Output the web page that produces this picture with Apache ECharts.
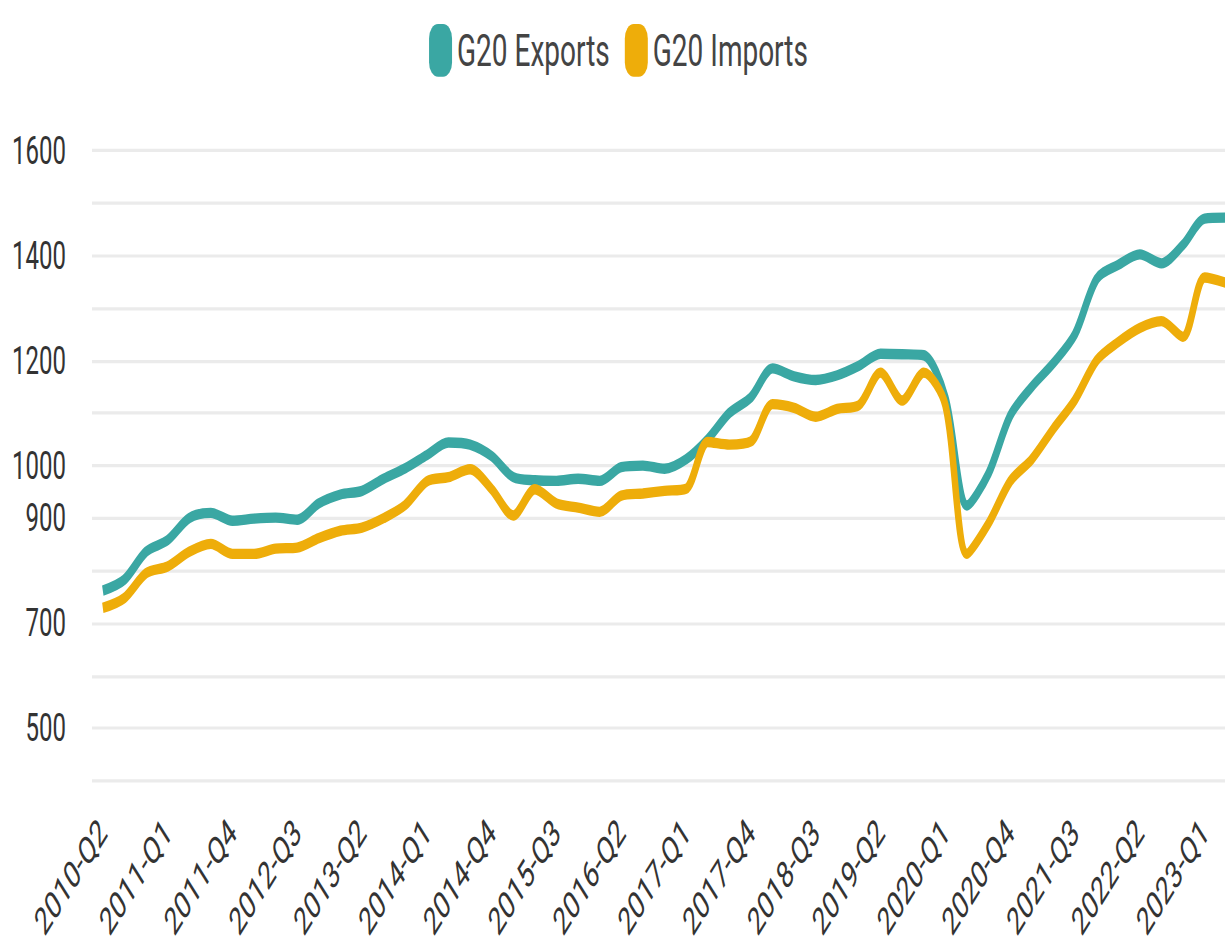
<!DOCTYPE html>
<html>
<head>
<meta charset="utf-8">
<title>G20 Exports and Imports</title>
<script src="https://cdn.jsdelivr.net/npm/echarts@6/dist/echarts.min.js"></script>
<style>
  html { overflow: hidden; }
  body { margin: 0; padding: 0; background: #fff; width: 1225px; height: 946px; }
  /* the reference is stretched vertically, so draw flat and scale up */
  #chart { width: 1237px; height: 591px; transform: scaleY(1.6); transform-origin: 0 0; }
</style>
</head>
<body>
<div id="chart"></div>
<script>
const quarters = [
  '2010-Q2', '2010-Q3', '2010-Q4',
  '2011-Q1', '2011-Q2', '2011-Q3', '2011-Q4',
  '2012-Q1', '2012-Q2', '2012-Q3', '2012-Q4',
  '2013-Q1', '2013-Q2', '2013-Q3', '2013-Q4',
  '2014-Q1', '2014-Q2', '2014-Q3', '2014-Q4',
  '2015-Q1', '2015-Q2', '2015-Q3', '2015-Q4',
  '2016-Q1', '2016-Q2', '2016-Q3', '2016-Q4',
  '2017-Q1', '2017-Q2', '2017-Q3', '2017-Q4',
  '2018-Q1', '2018-Q2', '2018-Q3', '2018-Q4',
  '2019-Q1', '2019-Q2', '2019-Q3', '2019-Q4',
  '2020-Q1', '2020-Q2', '2020-Q3', '2020-Q4',
  '2021-Q1', '2021-Q2', '2021-Q3', '2021-Q4',
  '2022-Q1', '2022-Q2', '2022-Q3', '2022-Q4',
  '2023-Q1', '2023-Q2'
]

const exportsG20 = [
  762, 783, 836,
  858, 900, 910, 895,
  899, 901, 897, 928,
  945, 952, 975, 995,
  1020, 1044, 1040, 1018,
  978, 972, 971, 975,
  971, 997, 1000, 994,
  1012, 1050, 1100, 1130,
  1185, 1170, 1163, 1172,
  1190, 1213, 1212, 1210,
  1130, 924, 985, 1095,
  1150, 1195, 1250, 1355,
  1382, 1402, 1385, 1420,
  1470, 1472
]

const importsG20 = [
  729, 748, 795,
  808, 836, 851, 832,
  832, 842, 844, 862,
  876, 882, 900, 925,
  970, 978, 993, 955,
  905, 955, 928, 920,
  912, 943, 947, 952,
  956, 1045, 1040, 1046,
  1117, 1110, 1093, 1108,
  1115, 1177, 1124, 1177,
  1115, 832, 890, 970,
  1012, 1070, 1125, 1200,
  1235, 1262, 1275, 1245,
  1358, 1348
]

// only these values get a label on the y axis
const yTickLabels = [500, 700, 900, 1000, 1200, 1400, 1600]

const chart = echarts.init(document.getElementById('chart'), null, { renderer: 'svg' })

chart.setOption({
  animation: false,
  color: ['#3aa7a3', '#eead0a'],
  textStyle: { fontFamily: 'Roboto' },
  legend: {
    top: 10,
    left: 'center',
    itemWidth: 23,
    itemHeight: 33,
    itemGap: 15,
    icon: 'path://M0,9 A9,9 0 0 1 9,0 L14,0 A9,9 0 0 1 23,9 L23,24 A9,9 0 0 1 14,33 L9,33 A9,9 0 0 1 0,24 Z',
    textStyle: { fontSize: 28, color: '#444', fontFamily: 'Roboto' },
    data: ['G20 Exports', 'G20 Imports']
  },
  grid: {
    left: 92,
    right: 0,
    top: 94,
    bottom: 103
  },
  xAxis: {
    type: 'category',
    boundaryGap: true,
    data: quarters,
    axisLine: { show: false },
    axisTick: { show: false },
    axisLabel: {
      interval: 2,
      rotate: 45,
      margin: 28,
      fontSize: 24,
      color: '#333',
      fontFamily: 'Roboto'
    }
  },
  yAxis: {
    type: 'value',
    min: 400,
    max: 1600,
    interval: 100,
    axisLine: { show: false },
    axisTick: { show: false },
    splitLine: { lineStyle: { color: '#ebebeb', width: 2 } },
    axisLabel: {
      margin: 26,
      fontSize: 24,
      color: '#333',
      fontFamily: 'Roboto',
      formatter: function (v) {
        return yTickLabels.indexOf(v) > -1 ? String(v) : ''
      }
    }
  },
  series: [
    {
      name: 'G20 Exports',
      type: 'line',
      data: exportsG20,
      smooth: 0.3,
      showSymbol: false,
      lineStyle: { width: 6.5 }
    },
    {
      name: 'G20 Imports',
      type: 'line',
      data: importsG20,
      smooth: 0.3,
      showSymbol: false,
      lineStyle: { width: 6.5 }
    }
  ]
})
</script>
</body>
</html>
